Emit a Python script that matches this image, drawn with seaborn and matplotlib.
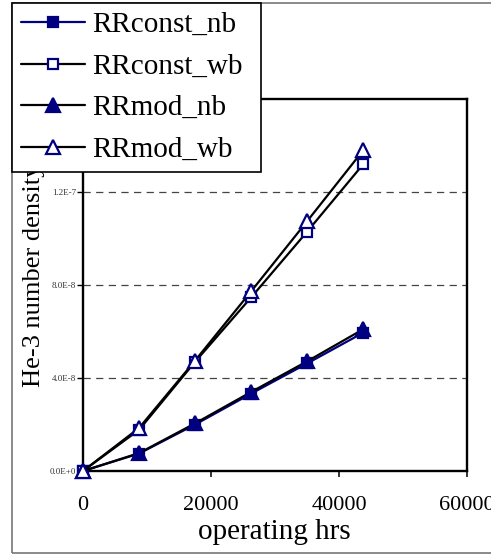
import numpy as np
import matplotlib
matplotlib.use("Agg")
import matplotlib.pyplot as plt
import matplotlib.patches as mpatches
import seaborn as sns
import pandas as pd

# dati
hours = [0, 8760, 17520, 26280, 35040, 43800]
rrconst_nb = [0.0, 0.75e-8, 2.00e-8, 3.33e-8, 4.63e-8, 5.95e-8]
rrconst_wb = [0.0, 1.77e-8, 4.70e-8, 7.47e-8, 10.30e-8, 13.20e-8]
rrmod_nb = [0.0, 0.77e-8, 2.05e-8, 3.40e-8, 4.72e-8, 6.10e-8]
rrmod_wb = [0.0, 1.85e-8, 4.75e-8, 7.73e-8, 10.75e-8, 13.80e-8]

series_names = ["RRconst_nb", "RRconst_wb", "RRmod_nb", "RRmod_wb"]
xticks = [0, 20000, 40000, 60000]
yticks = [0.0, 4e-8, 8e-8, 1.2e-7, 1.6e-7]
ytick_labels = ["0.0E+0", "4.0E-8", "8.0E-8", "1.2E-7", "1.6E-7"]

sns.set_theme(style="ticks")
plt.rcParams["font.family"] = ["Liberation Serif", "DejaVu Serif"]
plt.rcParams["text.color"] = "black"
plt.rcParams["axes.labelcolor"] = "black"
plt.rcParams["xtick.color"] = "black"
plt.rcParams["ytick.color"] = "black"

navy = "#000080"

fig = plt.figure(figsize=(4.91, 5.54), dpi=100)
ax = fig.add_axes([83 / 491, 1 - 471 / 554, 384 / 491, 372 / 554])

df = pd.DataFrame({"hours": hours, "RRconst_nb": rrconst_nb, "RRconst_wb": rrconst_wb,
                   "RRmod_nb": rrmod_nb, "RRmod_wb": rrmod_wb})

# stile di ogni serie: colore linea, marker, riempimento, dimensione
styles = {
    "RRconst_nb": (navy, "s", navy, 7),
    "RRconst_wb": ("black", "s", "white", 7.5),
    "RRmod_nb": ("black", "^", navy, 10),
    "RRmod_wb": ("black", "^", "white", 10.5),
}

for name in series_names:
    lc, mk, fc, ms = styles[name]
    sns.lineplot(data=df, x="hours", y=name, ax=ax, color=lc, marker=mk,
                 markersize=ms, markerfacecolor=fc, markeredgecolor=navy,
                 markeredgewidth=1.6, linewidth=1.6, label=name, legend=False,
                 clip_on=False, zorder=3)

ax.set_xlim(0, 60000)
ax.set_ylim(0, 1.6e-7)
ax.set_xticks(xticks)
ax.set_xticklabels([str(t) for t in xticks], fontsize=16)
ax.set_yticks(yticks)
ax.set_yticklabels(ytick_labels, fontsize=6.5, color="#333333")

for y in yticks[1:-1]:
    ax.axhline(y, color="#444444", linewidth=0.9, linestyle=(0, (5.8, 4.3)), zorder=1)

for s in ax.spines.values():
    s.set_visible(True)
    s.set_color("black")
    s.set_linewidth(1.7)

ax.tick_params(axis="x", direction="out", length=4.3, width=1.1, pad=14)
ax.tick_params(axis="y", direction="out", length=4.3, width=1.0, pad=0.5)

ax.set_xlabel("operating hrs", fontsize=21)
ax.set_ylabel("He-3 number density", fontsize=19)
ax.xaxis.set_label_coords(0.497, -0.13)
ax.yaxis.set_label_coords(-0.10, 0.527)

# bordo esterno della figura
fig.add_artist(mpatches.Rectangle((12 / 491, 1.5 / 554), 1.2, 1 - 4.5 / 554,
                                  transform=fig.transFigure, fill=False,
                                  edgecolor="#777777", linewidth=1.2, clip_on=False))

handles, labels = ax.get_legend_handles_labels()
leg = fig.legend(handles, labels, loc="upper left",
                 bbox_to_anchor=(12 / 491, 1 - 171 / 554, 249 / 491, 168 / 554),
                 mode="expand", fontsize=21, frameon=True, fancybox=False,
                 edgecolor="black", framealpha=1, handlelength=2.2,
                 handletextpad=0.25, labelspacing=0.52, borderpad=0.3,
                 borderaxespad=0)
leg.get_frame().set_linewidth(1.2)
leg.set_zorder(10)

fig.savefig("out.png", dpi=100)
